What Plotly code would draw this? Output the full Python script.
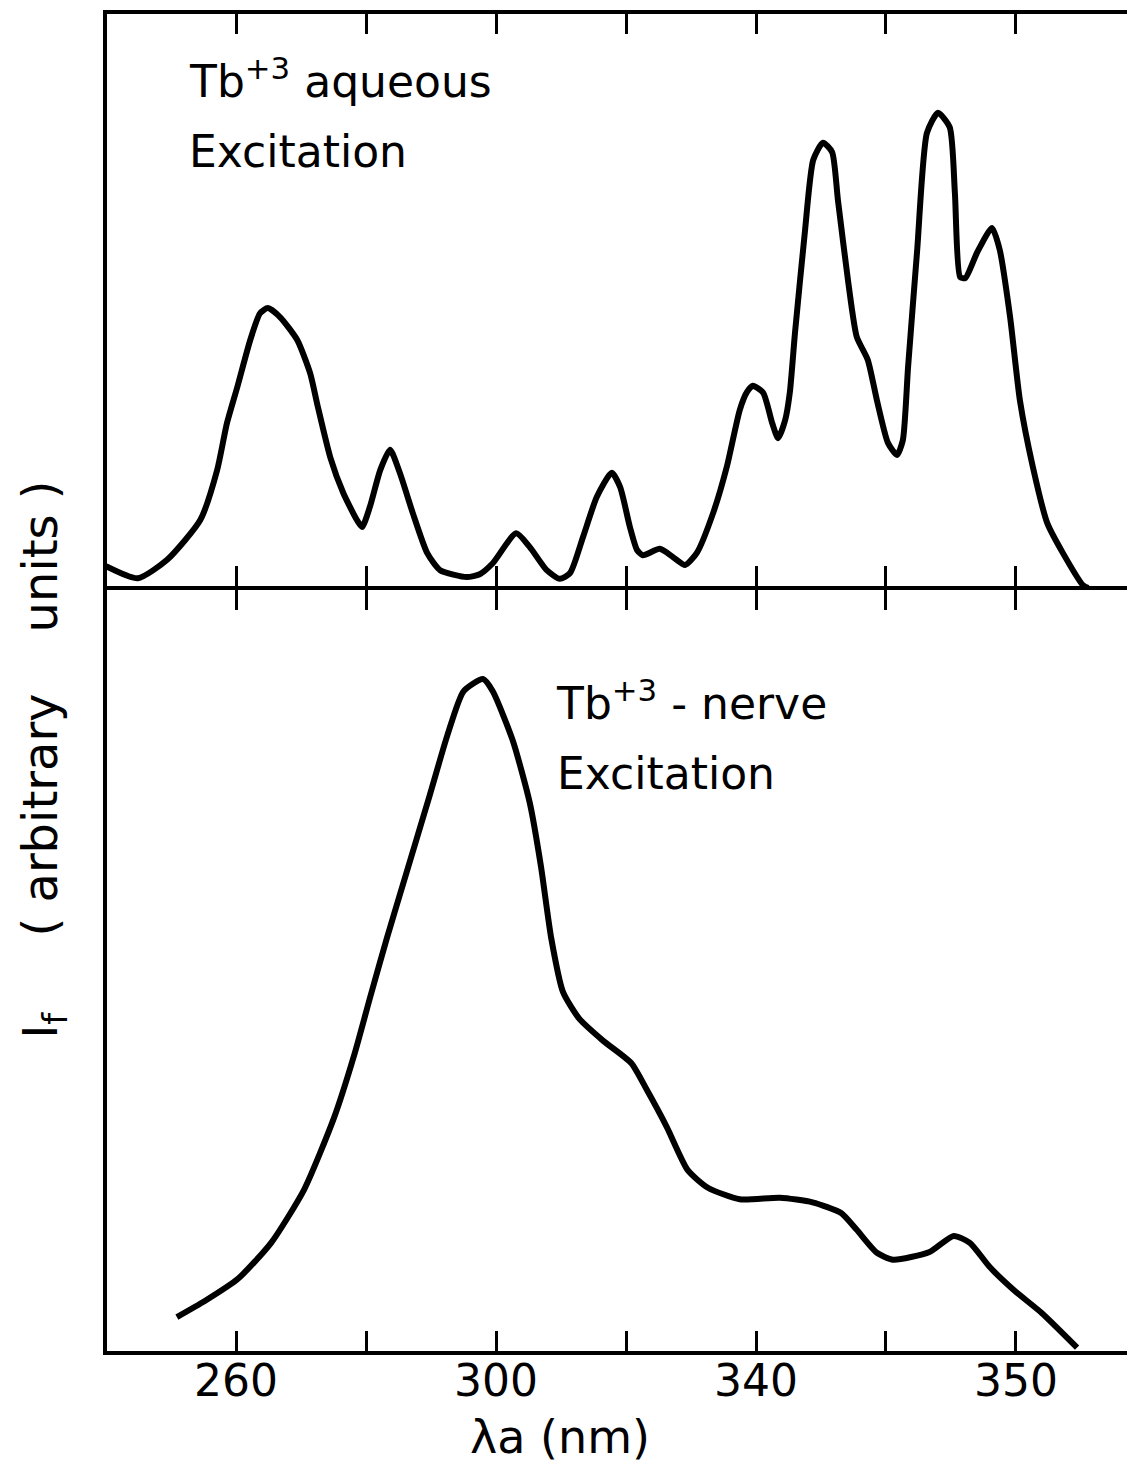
import plotly.graph_objects as go

# ---- Data (wavelength in nm, intensity in arbitrary units 0-100) ----
aq_nm = [240.0, 244.9, 249.4, 254.5, 257.1, 258.6, 260.2, 262.2, 263.7, 264.9, 266.8, 269.4,
         271.4, 272.6, 274.5, 276.5, 278.6, 279.4, 280.6, 282.2, 283.7, 285.2, 287.2, 289.4,
         291.4, 295.5, 297.5, 299.5, 303.1, 305.2, 307.8, 309.8, 311.4, 313.4, 315.5, 317.8,
         319.1, 320.6, 321.7, 322.6, 325.2, 327.2, 329.1, 330.9, 333.4, 335.5, 337.5, 338.6,
         339.5, 341.1, 342.5, 343.4, 344.5, 345.2, 346.0, 347.5, 348.8, 350.3, 351.7, 352.6,
         354.2, 355.5, 357.2, 358.6, 360.3, 361.7, 362.6, 363.4, 364.8, 366.3, 368.0, 369.8,
         370.6, 371.4, 372.2, 374.0, 376.3, 377.5, 379.1, 380.6, 382.6, 384.8, 387.2, 390.3,
         391.1]
aq_if = [3.8, 1.7, 4.9, 11.8, 20.5, 28.6, 34.9, 43.1, 47.7, 48.6, 47.0, 43.1,
         37.3, 31.4, 22.7, 16.5, 11.8, 10.6, 14.1, 20.5, 24.0, 20.0, 13.0, 6.1,
         3.1, 1.9, 2.4, 4.3, 9.5, 7.1, 3.1, 1.6, 2.6, 8.9, 15.8, 20.0,
         17.5, 10.6, 6.6, 5.7, 6.8, 5.4, 4.0, 6.1, 13.0, 21.0, 30.9, 34.0,
         35.1, 33.9, 28.6, 26.0, 29.2, 33.9, 44.3, 61.6, 74.3, 77.3, 75.7, 67.4,
         53.0, 43.6, 39.6, 32.6, 25.2, 23.1, 25.7, 38.4, 58.7, 79.0, 82.5, 80.0,
         68.6, 54.0, 53.8, 58.2, 62.5, 58.7, 47.0, 32.6, 21.0, 11.3, 6.1, 0.5,
         0.0]

nerve_nm = [250.9, 255.2, 260.3, 265.4, 270.5, 275.1, 278.2, 280.7, 283.2, 286.3, 289.8,
            292.5, 295.0, 298.0, 299.5, 302.6, 305.2, 306.9, 308.5, 310.3, 312.8, 316.5,
            320.8, 323.2, 326.3, 329.5, 332.6, 337.5, 343.7, 348.7, 353.1, 355.5, 358.6,
            361.1, 366.7, 370.4, 372.9, 376.0, 379.7, 384.0, 389.4]
nerve_if = [4.7, 6.8, 9.7, 14.4, 21.4, 30.8, 39.0, 46.7, 54.2, 63.0, 72.9,
            80.7, 86.5, 88.1, 86.5, 80.0, 71.9, 63.7, 54.2, 47.2, 43.7, 40.8,
            37.9, 34.4, 29.5, 23.9, 21.6, 20.1, 20.3, 19.7, 18.3, 16.1, 13.1,
            12.2, 13.2, 15.3, 14.4, 11.2, 8.2, 5.2, 0.7]

label_vals = [260, 300, 340, 380]
label_text = ["260", "300", "340", "350"]
minor_vals = [280, 320, 360]

FONT = "DejaVu Sans"
X_RANGE = [240.15, 398.31]

fig = go.Figure()
line_style = dict(color="black", width=6, shape="spline", smoothing=0.6)
fig.add_trace(go.Scatter(x=aq_nm, y=aq_if, xaxis="x2", yaxis="y2", mode="lines",
                         line=line_style, hoverinfo="skip"))
fig.add_trace(go.Scatter(x=nerve_nm, y=nerve_if, xaxis="x", yaxis="y", mode="lines",
                         line=line_style, hoverinfo="skip"))

axis_common = dict(showline=True, linewidth=4, linecolor="black", showgrid=False,
                   zeroline=False)
minor_style = dict(tickvals=minor_vals, ticks="inside", ticklen=20, tickwidth=3,
                   tickcolor="black", showgrid=False)

fig.update_layout(
    width=1127, height=1459,
    margin=dict(l=99, r=0, t=6, b=116, pad=0),
    paper_bgcolor="white", plot_bgcolor="white",
    showlegend=False,
    xaxis=dict(domain=[0, 1], range=X_RANGE, anchor="y", mirror="allticks",
               ticks="inside", ticklen=20, tickwidth=3, tickcolor="black",
               tickvals=label_vals, ticktext=label_text, ticklabelstandoff=-12,
               minor=minor_style,
               tickfont=dict(family=FONT, size=44, color="black"), **axis_common),
    xaxis2=dict(domain=[0, 1], range=X_RANGE, anchor="y2", matches="x", mirror="allticks",
                ticks="inside", ticklen=20, tickwidth=3, tickcolor="black",
                tickvals=label_vals, showticklabels=False, minor=minor_style,
                **axis_common),
    yaxis=dict(domain=[0, 761 / 1337], range=[0.26, 99.74], anchor="x", ticks="",
               showticklabels=False, **axis_common),
    yaxis2=dict(domain=[765 / 1337, 1], range=[0.35, 99.65], anchor="x2", ticks="",
                showticklabels=False, **axis_common),
)

def label(text, x, y, size=44, xanchor="left", angle=0):
    fig.add_annotation(text=text, xref="paper", yref="paper", x=x, y=y,
                       xanchor=xanchor, yanchor="middle", showarrow=False,
                       textangle=angle, font=dict(family=FONT, size=size, color="black"))

NB = "\u00a0"
label("Tb<sup>+3</sup> aqueous", 0.0778, 0.9521)
label("Excitation", 0.0778, 0.8968)
label("Tb<sup>+3</sup> - nerve", 0.4350, 0.4869)
label("Excitation", 0.4360, 0.4323)
label("λa (nm)", 0.4407, -0.0643, size=46, xanchor="center")
label("I<sub>f</sub>" + NB * 5 + "(" + NB + "arbitrary" + NB * 4 + "units" + NB + ")",
      -0.0625, 0.4420, size=48, xanchor="center", angle=-90)

fig.write_html("out.html")
